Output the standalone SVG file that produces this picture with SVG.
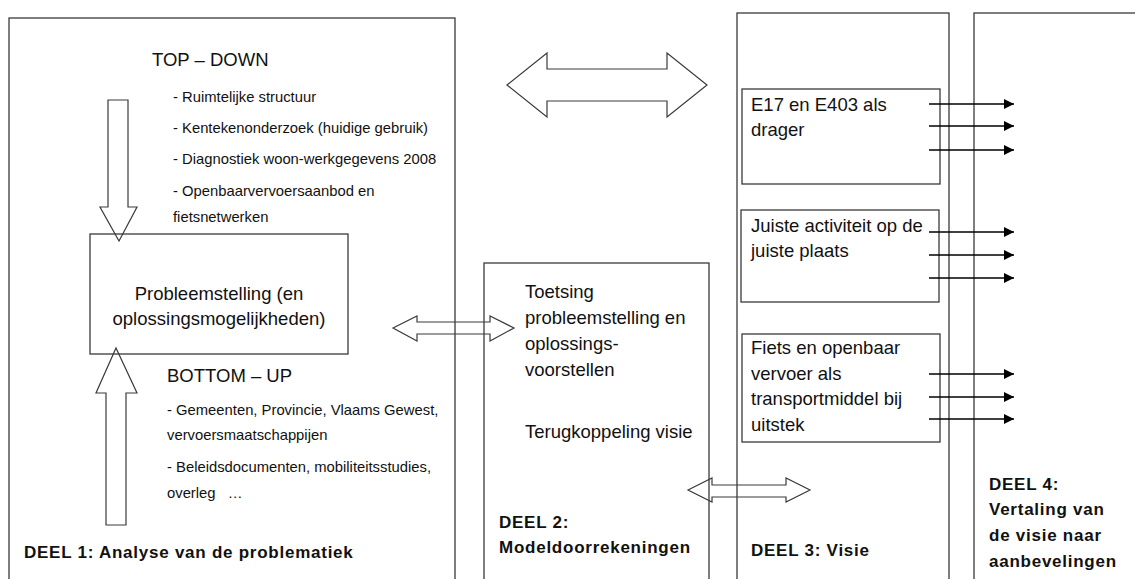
<svg xmlns="http://www.w3.org/2000/svg" width="1135" height="579" viewBox="0 0 1135 579">
<style>
.box{fill:none;stroke:#3a3a3a;stroke-width:1.3}
.blk{fill:none;stroke:#3a3a3a;stroke-width:1.2}
.t{font-family:"Liberation Sans",Arial,sans-serif;font-size:18.5px;fill:#111}
.s{font-family:"Liberation Sans",Arial,sans-serif;font-size:14.8px;fill:#111}
.b{font-family:"Liberation Sans",Arial,sans-serif;font-size:17px;letter-spacing:0.75px;font-weight:bold;fill:#111}
.ln{stroke:#000;stroke-width:1.3;fill:none}
</style>
<defs>
<marker id="ah" viewBox="0 0 10 10" refX="10" refY="5" markerWidth="10" markerHeight="10" markerUnits="userSpaceOnUse" orient="auto">
<path d="M0,0 L10,5 L0,10 Z" fill="#000"/>
</marker>
</defs>
<rect width="1135" height="579" fill="#fff"/>

<g id="deel1">
<rect class="box" x="9" y="18" width="446" height="580"/>
<text class="t" x="152" y="66">TOP – DOWN</text>
<text class="s" x="173" y="102">- Ruimtelijke structuur</text>
<text class="s" x="173" y="133">- Kentekenonderzoek (huidige gebruik)</text>
<text class="s" x="173" y="164">- Diagnostiek woon-werkgegevens 2008</text>
<text class="s" x="173" y="196">- Openbaarvervoersaanbod en</text>
<text class="s" x="173" y="222">fietsnetwerken</text>
<text class="t" x="167" y="382">BOTTOM – UP</text>
<text class="s" x="167" y="415">- Gemeenten, Provincie, Vlaams Gewest,</text>
<text class="s" x="167" y="440">vervoersmaatschappijen</text>
<text class="s" x="167" y="472">- Beleidsdocumenten, mobiliteitsstudies,</text>
<text class="s" x="167" y="498" xml:space="preserve">overleg   …</text>
<text class="b" x="24" y="558">DEEL 1: Analyse van de problematiek</text>
</g>

<g id="probleemstelling">
<rect class="box" x="90" y="234" width="258" height="120"/>
<text class="t" x="219" y="300" text-anchor="middle">Probleemstelling (en</text>
<text class="t" x="219" y="325" text-anchor="middle">oplossingsmogelijkheden)</text>
</g>

<g id="deel2">
<rect class="box" x="484" y="263" width="225" height="340"/>
<text class="t" x="525" y="298">Toetsing</text>
<text class="t" x="525" y="324">probleemstelling en</text>
<text class="t" x="525" y="350">oplossings-</text>
<text class="t" x="525" y="376">voorstellen</text>
<text class="t" x="525" y="438">Terugkoppeling visie</text>
<text class="b" x="499" y="528">DEEL 2:</text>
<text class="b" x="499" y="553">Modeldoorrekeningen</text>
</g>

<g id="deel3">
<rect class="box" x="737" y="13" width="212" height="590" stroke="#222"/>
<text class="b" x="751" y="556">DEEL 3: Visie</text>
</g>

<g id="e17">
<rect class="box" x="742" y="89" width="198" height="95"/>
<text class="t" x="751" y="111">E17 en E403 als</text>
<text class="t" x="751" y="136">drager</text>
</g>

<g id="juiste">
<rect class="box" x="741" y="210" width="198" height="92"/>
<text class="t" x="751" y="232">Juiste activiteit op de</text>
<text class="t" x="751" y="257">juiste plaats</text>
</g>

<g id="fiets">
<rect class="box" x="742" y="334" width="198" height="108"/>
<text class="t" x="751" y="354">Fiets en openbaar</text>
<text class="t" x="751" y="380">vervoer als</text>
<text class="t" x="751" y="405">transportmiddel bij</text>
<text class="t" x="751" y="431">uitstek</text>
</g>

<g id="deel4">
<rect class="box" x="974" y="13" width="200" height="590" stroke="#222"/>
<text class="b" x="989" y="490">DEEL 4:</text>
<text class="b" x="989" y="515">Vertaling van</text>
<text class="b" x="989" y="541">de visie naar</text>
<text class="b" x="989" y="567">aanbevelingen</text>
</g>

<g id="connectors">
<path class="blk" d="M108,100 H128 V207 H137 L119,241 L100,207 H108 Z"/>
<path class="blk" d="M106,525 V393 H96 L116,348 L137,393 H126 V525 Z"/>
<path class="blk" d="M507,85 L547,53 V69 H667 V53 L707,85 L667,117 V101 H547 V117 Z"/>
<path class="blk" d="M393,328 L417,316 V322 H490 V316 L514,328 L490,341 V334 H417 V341 Z"/>
<path class="blk" d="M688,490 L712,478 V485 H786 V478 L810,490 L786,502 V497 H712 V502 Z"/>
<line class="ln" x1="929" y1="104" x2="1014" y2="104" marker-end="url(#ah)"/>
<line class="ln" x1="929" y1="126" x2="1014" y2="126" marker-end="url(#ah)"/>
<line class="ln" x1="929" y1="150" x2="1014" y2="150" marker-end="url(#ah)"/>
<line class="ln" x1="929" y1="232" x2="1014" y2="232" marker-end="url(#ah)"/>
<line class="ln" x1="929" y1="255" x2="1014" y2="255" marker-end="url(#ah)"/>
<line class="ln" x1="929" y1="278" x2="1014" y2="278" marker-end="url(#ah)"/>
<line class="ln" x1="929" y1="374" x2="1014" y2="374" marker-end="url(#ah)"/>
<line class="ln" x1="929" y1="397" x2="1014" y2="397" marker-end="url(#ah)"/>
<line class="ln" x1="929" y1="419" x2="1014" y2="419" marker-end="url(#ah)"/>
</g>
</svg>
